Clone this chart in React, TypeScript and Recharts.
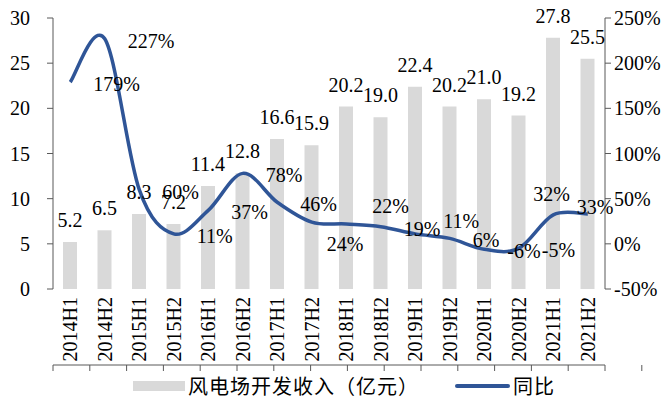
import React from 'react';
import { ComposedChart, Bar, Line, XAxis, YAxis, Legend, LabelList } from 'recharts';

// Half-year periods, revenue (亿元) and YoY growth (%)
const PERIODS = [
    '2014H1', '2014H2', '2015H1', '2015H2', '2016H1', '2016H2', '2017H1', '2017H2',
    '2018H1', '2018H2', '2019H1', '2019H2', '2020H1', '2020H2', '2021H1', '2021H2',
];
const REVENUE = [5.2, 6.5, 8.3, 7.2, 11.4, 12.8, 16.6, 15.9, 20.2, 19.0, 22.4, 20.2, 21.0, 19.2, 27.8, 25.5];
const YOY = [179, 227, 60, 11, 37, 78, 46, 24, 22, 19, 11, 6, -6, -5, 32, 33];

const LEFT_TICKS = [0, 5, 10, 15, 20, 25, 30];
const RIGHT_TICKS = [-50, 0, 50, 100, 150, 200, 250];
// category boundaries, for the Excel-style tick marks between bars
const BOUNDARIES = PERIODS.map((_, i) => i).concat(PERIODS.length);

const data = PERIODS.map((period, i) => ({ period, revenue: REVENUE[i], yoy: YOY[i] }));

const SERIF = 'Liberation Serif, Tinos, Times New Roman, DejaVu Serif, serif';
const CJK = 'Noto Sans CJK SC, Noto Sans, sans-serif';
const AXIS = '#595959';
const BAR = '#d9d9d9';
const LINE = '#2f5597';

// some of the growth labels were dragged by hand in the original
const PCT_NUDGE: Record<number, [number, number]> = {
    7: [-8, 20],
    8: [3, -20],
    10: [5, -15],
    14: [-43, -23],
    15: [-34, -9],
};

// Excel style smoothing (Catmull-Rom through the points)
const excelSmooth = (context: any) => {
    let pts: number[][] = [];
    return {
        areaStart() {},
        areaEnd() {},
        lineStart() { pts = []; },
        point(x: number, y: number) { pts.push([+x, +y]); },
        lineEnd() {
            const n = pts.length;
            if (!n) return;
            context.moveTo(pts[0][0], pts[0][1]);
            for (let i = 0; i < n - 1; i++) {
                const p0 = pts[i > 0 ? i - 1 : i];
                const p1 = pts[i];
                const p2 = pts[i + 1];
                const p3 = pts[i + 2 < n ? i + 2 : i + 1];
                context.bezierCurveTo(
                    p1[0] + (p2[0] - p0[0]) / 6, p1[1] + (p2[1] - p0[1]) / 6,
                    p2[0] - (p3[0] - p1[0]) / 6, p2[1] - (p3[1] - p1[1]) / 6,
                    p2[0], p2[1]
                );
            }
        },
    };
};

const serifStyle = { fontFamily: SERIF, fontSize: 20 };

const CatTick = (props: any) => {
    const { x, y, payload } = props;
    return (
        <text
            transform={`translate(${x},${y + 8}) rotate(-90)`}
            textAnchor="end"
            dy="0.35em"
            style={serifStyle}
            fill="#000"
        >
            {payload.value}
        </text>
    );
};

const BarValueLabel = (props: any) => {
    const { x, y, width, value } = props;
    return (
        <text x={x + width / 2} y={y - 22} dy="0.35em" textAnchor="middle" style={serifStyle} fill="#000">
            {Number(value).toFixed(1)}
        </text>
    );
};

const PctLabel = (props: any) => {
    const { index, value } = props;
    const x = props.x ?? props.viewBox?.x;
    const y = props.y ?? props.viewBox?.y;
    const [nx, ny] = PCT_NUDGE[index] || [0, 0];
    return (
        <text x={x + 23 + nx} y={y + 2 + ny} dy="0.35em" textAnchor="start" style={serifStyle} fill="#000">
            {value}%
        </text>
    );
};

const LegendBox = () => (
    <div style={{ height: 30, display: 'flex', alignItems: 'center', paddingLeft: 133, fontFamily: CJK, fontSize: 20, letterSpacing: 1, lineHeight: '22px', color: '#000', whiteSpace: 'nowrap' }}>
        <span style={{ width: 52, height: 10, background: BAR, marginRight: 3 }} />
        <span>风电场开发收入（亿元）</span>
        <span style={{ width: 55, height: 4, background: LINE, borderRadius: 2, marginLeft: 36, marginRight: 3 }} />
        <span>同比</span>
    </div>
);

const App = () => {
    return (
        <div style={{ position: 'absolute', left: 0, top: 0, width: 671, height: 401, background: '#fff' }}>
            <ComposedChart width={671} height={401} data={data} margin={{ top: 18, right: 0, bottom: 0, left: 0 }}>
                <XAxis
                    xAxisId="grid"
                    type="number"
                    domain={[0, PERIODS.length]}
                    ticks={BOUNDARIES}
                    interval={0}
                    allowDataOverflow
                    tickFormatter={() => ''}
                    tickSize={6}
                    height={6}
                    stroke={AXIS}
                    tickLine={{ stroke: AXIS }}
                />
                <XAxis
                    xAxisId="cat"
                    dataKey="period"
                    interval={0}
                    axisLine={false}
                    tickLine={false}
                    tickSize={0}
                    tickMargin={0}
                    height={76}
                    tick={<CatTick />}
                />
                <YAxis
                    yAxisId="left"
                    domain={[0, 30]}
                    ticks={LEFT_TICKS}
                    interval={0}
                    width={53}
                    tickSize={6}
                    tickMargin={17}
                    stroke={AXIS}
                    tick={{ fill: '#000', style: serifStyle }}
                />
                <YAxis
                    yAxisId="right"
                    orientation="right"
                    domain={[-50, 250]}
                    ticks={RIGHT_TICKS}
                    interval={0}
                    width={66}
                    tickSize={6}
                    tickMargin={3}
                    stroke={AXIS}
                    tickFormatter={(v: number) => `${v}%`}
                    tick={{ fill: '#000', style: serifStyle }}
                />
                <Legend verticalAlign="bottom" align="left" height={30} content={<LegendBox />} />
                <Bar xAxisId="cat" yAxisId="left" dataKey="revenue" name="风电场开发收入（亿元）" fill={BAR} barSize={14} isAnimationActive={false}>
                    <LabelList dataKey="revenue" content={<BarValueLabel />} />
                </Bar>
                <Line
                    xAxisId="cat"
                    yAxisId="right"
                    dataKey="yoy"
                    name="同比"
                    type={excelSmooth as any}
                    stroke={LINE}
                    strokeWidth={3.5}
                    dot={false}
                    activeDot={false}
                    isAnimationActive={false}
                >
                    <LabelList dataKey="yoy" content={<PctLabel />} />
                </Line>
            </ComposedChart>
        </div>
    );
};

export default App;
